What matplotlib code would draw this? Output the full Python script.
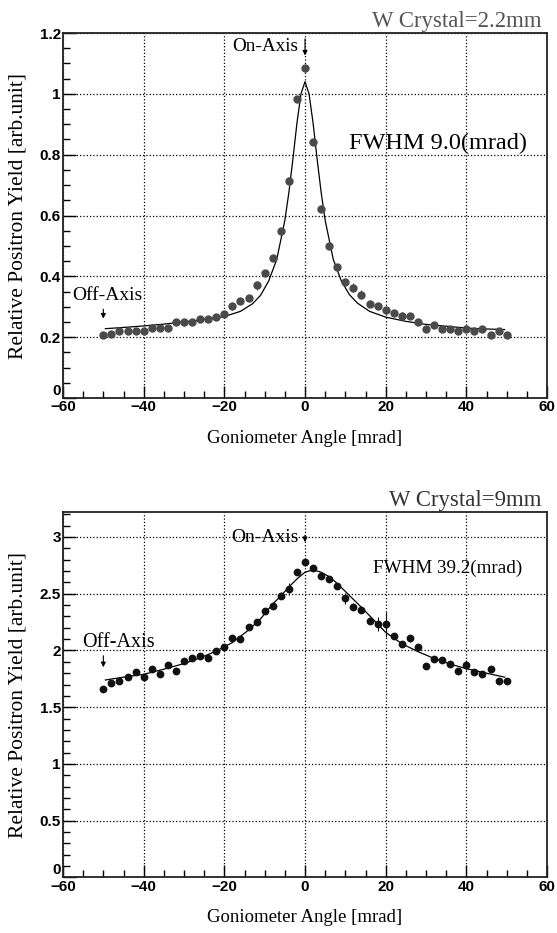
"""
Positron yield vs goniometer angle, two W crystals (2.2 mm and 9 mm).
"""
import numpy as np
import matplotlib
matplotlib.use('Agg')
import matplotlib.pyplot as plt
from matplotlib.ticker import MultipleLocator, FuncFormatter

# ---- W crystal 2.2 mm ----
angle_thin = [-50, -48, -46, -44, -42, -40, -38, -36, -34, -32, -30, -28, -26,
              -24, -22, -20, -18, -16, -14, -12, -10, -8, -6, -4, -2, 0,
              2, 4, 6, 8, 10, 12, 14, 16, 18, 20, 22, 24, 26, 28, 30, 32,
              34, 36, 38, 40, 42, 44, 46, 48, 50]
yield_thin = [0.207, 0.210, 0.219, 0.219, 0.219, 0.219, 0.230, 0.230, 0.229,
              0.249, 0.249, 0.251, 0.259, 0.261, 0.268, 0.277, 0.301, 0.320,
              0.329, 0.370, 0.410, 0.461, 0.550, 0.712, 0.984, 1.084,
              0.843, 0.623, 0.500, 0.431, 0.381, 0.362, 0.340, 0.310, 0.301,
              0.288, 0.279, 0.270, 0.270, 0.250, 0.227, 0.241, 0.227, 0.227,
              0.219, 0.227, 0.219, 0.227, 0.208, 0.219, 0.208]
err_thin = [0.006, 0.006, 0.006, 0.006, 0.006, 0.006, 0.006, 0.006, 0.008,
            0.008, 0.012, 0.008, 0.008, 0.008, 0.008, 0.010, 0.012, 0.008,
            0.010, 0.015, 0.012, 0.010, 0.010, 0.015, 0.010, 0.012,
            0.010, 0.012, 0.010, 0.008, 0.010, 0.015, 0.015, 0.008, 0.008,
            0.010, 0.008, 0.012, 0.008, 0.008, 0.008, 0.008, 0.008, 0.008,
            0.008, 0.008, 0.006, 0.008, 0.006, 0.006, 0.006]
fit_x_thin = [-49.5, -45, -40, -35, -30, -25, -20, -16, -13, -11, -9, -7, -5,
              -4, -3, -2, -1, 0, 1, 2, 3, 4, 5, 7, 9, 11, 13, 16, 20, 25,
              30, 35, 40, 45, 49.5]
fit_y_thin = [0.228, 0.232, 0.237, 0.243, 0.250, 0.258, 0.268, 0.285, 0.310,
              0.338, 0.385, 0.456, 0.584, 0.676, 0.786, 0.904, 1.000, 1.040,
              1.000, 0.904, 0.786, 0.676, 0.584, 0.456, 0.385, 0.340, 0.312,
              0.285, 0.266, 0.252, 0.242, 0.236, 0.230, 0.227, 0.225]

# ---- W crystal 9 mm ----
angle_thick = angle_thin
yield_thick = [1.661, 1.711, 1.734, 1.764, 1.808, 1.769, 1.837, 1.793, 1.872,
               1.822, 1.910, 1.931, 1.951, 1.931, 1.996, 2.034, 2.113, 2.098,
               2.210, 2.254, 2.348, 2.392, 2.483, 2.542, 2.694, 2.777,
               2.724, 2.656, 2.630, 2.568, 2.460, 2.386, 2.357, 2.263, 2.233,
               2.233, 2.128, 2.057, 2.107, 2.034, 1.863, 1.925, 1.916, 1.878,
               1.822, 1.872, 1.808, 1.790, 1.834, 1.734, 1.734]
err_thick = [0.02, 0.02, 0.02, 0.02, 0.02, 0.02, 0.02, 0.02, 0.02, 0.02,
             0.02, 0.02, 0.02, 0.02, 0.02, 0.02, 0.02, 0.02, 0.02, 0.02,
             0.03, 0.02, 0.03, 0.05, 0.02, 0.03,
             0.02, 0.03, 0.02, 0.03, 0.05, 0.03, 0.03, 0.02, 0.06,
             0.11, 0.03, 0.03, 0.03, 0.02, 0.02, 0.02, 0.03, 0.02,
             0.02, 0.04, 0.02, 0.02, 0.02, 0.02, 0.02]
fit_x_thick = [-49.5, -45, -40, -35, -30, -26, -22, -18, -14, -11, -8, -6,
               -4, -2, 0, 2, 4, 6, 8, 10, 12, 14, 17, 20, 24, 28, 32, 36,
               40, 45, 49.5]
fit_y_thick = [1.740, 1.765, 1.790, 1.835, 1.885, 1.935, 1.995, 2.070, 2.180,
               2.280, 2.410, 2.480, 2.560, 2.630, 2.690, 2.710, 2.690, 2.650,
               2.590, 2.520, 2.450, 2.380, 2.270, 2.160, 2.060, 1.990, 1.930,
               1.880, 1.840, 1.800, 1.765]

SERIF = 'Liberation Serif'
SANS = 'Liberation Sans'
ARROW = dict(arrowstyle='-|>', color='black', lw=0.8, mutation_scale=7)


def ytick_fmt(v, pos):
    # le zéro est écrit à part, au-dessus de l'axe x (style ROOT)
    if abs(v) < 1e-9:
        return ''
    return '%g' % round(v, 2)


def style_axes(ax, ymax, ymajor, yminor):
    ax.set_xlim(-60, 60)
    ax.set_ylim(0, ymax)
    ax.xaxis.set_major_locator(MultipleLocator(20))
    ax.xaxis.set_minor_locator(MultipleLocator(5))
    ax.yaxis.set_major_locator(MultipleLocator(ymajor))
    ax.yaxis.set_minor_locator(MultipleLocator(yminor))
    ax.yaxis.set_major_formatter(FuncFormatter(ytick_fmt))
    ax.tick_params(which='both', direction='in', top=False, right=False)
    ax.tick_params(which='major', length=9, width=1.0)
    ax.tick_params(which='minor', length=5, width=1.0)
    ax.tick_params(axis='both', labelsize=11, pad=1.5)
    for lab in ax.get_xticklabels() + ax.get_yticklabels():
        lab.set_fontfamily(SANS)
        lab.set_fontweight('bold')
    ax.text(-0.004, 0.0, '0', transform=ax.transAxes, ha='right',
            va='bottom', family=SANS, fontweight='bold', fontsize=11)
    ax.grid(True, which='major', linestyle=':', color='black', linewidth=0.9)
    for sp in ax.spines.values():
        sp.set_linewidth(1.3)
        sp.set_color('#222222')
    ax.set_xlabel('Goniometer Angle [mrad]', family=SERIF, fontsize=13.5)
    ax.xaxis.set_label_coords(0.5, -0.087)
    ax.set_ylabel('Relative Positron Yield [arb.unit]', family=SERIF,
                  fontsize=15.5)
    ax.yaxis.set_label_coords(-0.074, 0.5)


fig = plt.figure(figsize=(5.57, 9.33), dpi=100)

# --- haut : 2.2 mm ---
ax1 = fig.add_axes([0.1131, 0.5734, 0.869, 0.3912])
ax1.plot(fit_x_thin, fit_y_thin, color='black', linewidth=0.9, zorder=3)
ax1.errorbar(angle_thin, yield_thin, yerr=err_thin, fmt='o', color='#4a4a4a',
             markersize=5, elinewidth=0.8, capsize=0, zorder=4)
style_axes(ax1, 1.2, 0.2, 0.05)
ax1.text(0.988, 1.016, 'W Crystal=2.2mm', transform=ax1.transAxes, ha='right',
         va='baseline', family=SERIF, fontsize=16.4, color='#555555')
ax1.annotate('', xy=(0, 1.117), xytext=(0, 1.19), arrowprops=ARROW)
ax1.text(-1.8, 1.14, 'On-Axis', ha='right', va='baseline', family=SERIF,
         fontsize=13.8)
ax1.text(11, 0.819, 'FWHM 9.0(mrad)', ha='left', va='baseline', family=SERIF,
         fontsize=17.5)
ax1.text(-57.7, 0.323, 'Off-Axis', ha='left', va='baseline', family=SERIF,
         fontsize=14)
ax1.annotate('', xy=(-50, 0.252), xytext=(-50, 0.301), arrowprops=ARROW)

# --- bas : 9 mm ---
ax2 = fig.add_axes([0.1131, 0.0595, 0.869, 0.3917])
ax2.plot(fit_x_thick, fit_y_thick, color='black', linewidth=0.9, zorder=3)
ax2.errorbar(angle_thick, yield_thick, yerr=err_thick, fmt='o', color='#111111',
             markersize=4.6, elinewidth=0.8, capsize=0, zorder=4)
style_axes(ax2, 3.22, 0.5, 0.1)
ax2.text(0.988, 1.017, 'W Crystal=9mm', transform=ax2.transAxes, ha='right',
         va='baseline', family=SERIF, fontsize=16.4, color='#333333')
ax2.annotate('', xy=(0, 2.93), xytext=(0, 3.04), arrowprops=ARROW)
ax2.text(-1.6, 2.96, 'On-Axis', ha='right', va='baseline', family=SERIF,
         fontsize=14)
ax2.text(16.8, 2.686, 'FWHM 39.2(mrad)', ha='left', va='baseline',
         family=SERIF, fontsize=13.8)
ax2.text(-55.3, 2.033, 'Off-Axis', ha='left', va='baseline', family=SERIF,
         fontsize=14.5)
ax2.annotate('', xy=(-50, 1.828), xytext=(-50, 1.978), arrowprops=ARROW)

fig.savefig('out.png', dpi=100)
